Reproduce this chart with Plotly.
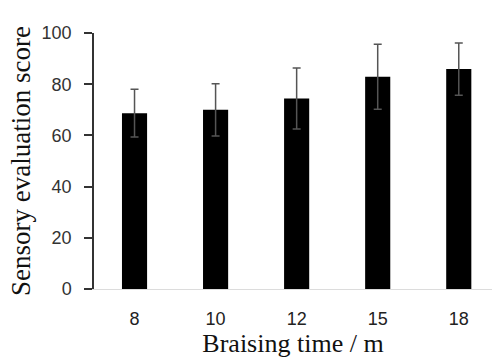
import plotly.graph_objects as go

categories = ["8", "10", "12", "15", "18"]
scores = [68.7, 70.0, 74.4, 82.9, 85.9]
errors = [9.3, 10.2, 11.9, 12.7, 10.2]
y_ticks = [0, 20, 40, 60, 80, 100]

fig = go.Figure()
fig.add_trace(go.Bar(
    x=categories, y=scores, width=0.31,
    marker=dict(color="black", line=dict(width=0)),
    error_y=dict(type="data", array=errors, visible=True,
                 color="#555555", thickness=1.5, width=4),
))

fig.update_layout(
    width=492, height=363,
    margin=dict(l=94, r=0, t=33, b=74),
    plot_bgcolor="white", paper_bgcolor="white",
    showlegend=False,
    xaxis=dict(
        type="category", range=[-0.5, 4.41],
        showline=True, linecolor="#dcdcdc", linewidth=1,
        ticks="", showgrid=False, zeroline=False,
        tickfont=dict(family="Liberation Sans, Arial", size=18, color="#222"),
        ticklabelstandoff=13,
        title=dict(text="Braising time / m",
                   font=dict(family="Liberation Serif, Times New Roman", size=26, color="#111"),
                   standoff=5),
    ),
    yaxis=dict(
        range=[0, 100], tickvals=y_ticks,
        showline=True, linecolor="#333", linewidth=1.5,
        ticks="outside", ticklen=8, tickwidth=1.5, tickcolor="#333",
        showgrid=False, zeroline=False,
        tickfont=dict(family="Liberation Sans, Arial", size=18, color="#333"),
        ticklabelstandoff=9,
        title=dict(text="Sensory evaluation score",
                   font=dict(family="Liberation Serif, Times New Roman", size=27, color="#111"),
                   standoff=3),
    ),
)

fig.write_html("out.html")
